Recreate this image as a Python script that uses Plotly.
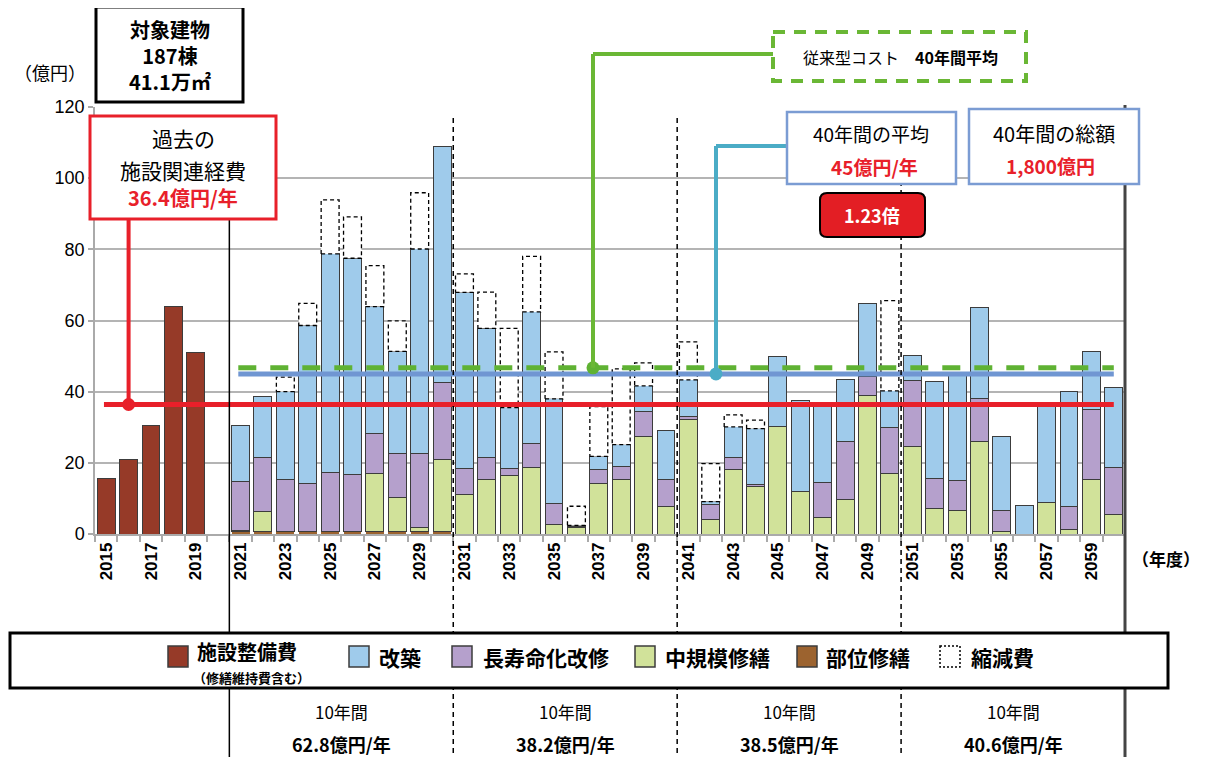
import plotly.graph_objects as go

# ---------------- data ----------------
hist_years = [2015, 2016, 2017, 2018, 2019]
facility_cost = [15.6, 21.0, 30.6, 63.8, 51.0]          # 施設整備費

years = list(range(2021, 2061))
partial_repair = [0.6, 0.6, 0.6, 0.6, 0.6, 0.6, 0.6, 0.6, 0.6, 0.6,
                  0.0, 0.0, 0.0, 0.0, 0.0, 0.0, 0.0, 0.0, 0.0, 0.0,
                  0.0, 0.0, 0.0, 0.0, 0.0, 0.0, 0.0, 0.0, 0.0, 0.0,
                  0.0, 0.0, 0.0, 0.0, 0.0, 0.0, 0.0, 0.0, 0.0, 0.0]   # 部位修繕
medium_repair = [0.4, 5.7, 0.0, 0.0, 0.0, 0.0, 16.4, 9.7, 1.3, 20.3,
                 11.0, 15.3, 16.5, 18.7, 2.6, 1.7, 14.2, 15.2, 27.3, 7.8,
                 32.3, 4.0, 18.1, 13.3, 30.2, 12.0, 4.6, 9.8, 38.8, 16.9,
                 24.6, 7.2, 6.6, 26.0, 0.8, 0.0, 8.8, 1.3, 15.2, 5.5]   # 中規模修繕
life_extension = [13.7, 15.1, 14.7, 13.7, 16.7, 16.1, 11.2, 12.2, 20.6, 21.6,
                  7.5, 6.3, 2.0, 6.6, 5.9, 0.5, 4.0, 3.8, 7.2, 7.4,
                  0.7, 4.3, 3.5, 0.6, 0.0, 0.0, 9.8, 16.2, 5.6, 12.9,
                  18.6, 8.5, 8.3, 12.2, 5.7, 0.0, 0.0, 6.5, 19.7, 13.1]  # 長寿命化改修
rebuild = [15.7, 17.2, 24.7, 44.3, 61.4, 60.8, 35.7, 28.8, 57.6, 66.5,
           49.4, 36.2, 17.0, 37.1, 29.5, 0.2, 3.6, 6.1, 7.1, 14.0,
           10.3, 0.8, 8.5, 15.7, 19.8, 25.5, 22.6, 17.3, 20.3, 10.4,
           6.9, 27.2, 30.1, 25.4, 21.0, 7.9, 27.7, 32.3, 16.4, 22.5]     # 改築
reduction = [0.0, 0.0, 4.1, 6.2, 15.2, 11.6, 11.5, 8.6, 15.8, 0.0,
             5.2, 10.2, 22.3, 15.6, 13.2, 5.4, 14.0, 21.3, 6.5, 0.0,
             10.7, 10.7, 3.4, 2.4, 0.0, 0.0, 0.0, 0.0, 0.0, 25.4,
             0.0, 0.0, 0.0, 0.0, 0.0, 0.0, 0.0, 0.0, 0.0, 0.0]           # 縮減費

avg_past = 36.4          # 過去の施設関連経費
avg_40yr = 45.0          # 40年間の平均
avg_conventional = 46.7  # 従来型コスト 40年間平均

decade_labels = ["10年間", "10年間", "10年間", "10年間"]
decade_values = ["62.8億円/年", "38.2億円/年", "38.5億円/年", "40.6億円/年"]
tick_years = list(range(2015, 2061, 2))

# ---------------- style ----------------
C_FAC = "#963a28"
C_REB = "#9fcbeb"
C_LIFE = "#b5a0cc"
C_MED = "#d1e29a"
C_PART = "#9c632f"
C_EDGE = "#3c3c3c"
RED = "#e8202a"
BLUE_LINE = "#7096d2"
GREEN = "#5fb233"
CYAN = "#4bacc6"
JP = "Noto Sans CJK JP"

# page offset (browser body margin) compensation
OFF = 8
W, H = 1205 - OFF, 757 - OFF
# plot area in screen pixels
L, R, T, B = 95, 1125, 107, 534
X0, X1 = 2014.5, 2060.5


def PX(x):
    return (x - L) / (R - L)


def PY(y):
    return (B - y) / (B - T)


def data_to_px(xd):
    return L + (xd - X0) * (R - L) / (X1 - X0)


def px_to_data(xp):
    return X0 + (xp - L) * (X1 - X0) / (R - L)


def yval_to_px(v):
    return B - v * (B - T) / 120.0


fig = go.Figure()
bar_line = dict(color=C_EDGE, width=1)
fig.add_trace(go.Bar(x=hist_years, y=facility_cost, marker=dict(color=C_FAC, line=bar_line),
                     width=0.8, name="施設整備費"))
fig.add_trace(go.Bar(x=years, y=partial_repair, marker=dict(color=C_PART, line=dict(width=0)),
                     width=0.8, name="部位修繕"))
fig.add_trace(go.Bar(x=years, y=medium_repair, marker=dict(color=C_MED, line=bar_line),
                     width=0.8, name="中規模修繕"))
fig.add_trace(go.Bar(x=years, y=life_extension, marker=dict(color=C_LIFE, line=bar_line),
                     width=0.8, name="長寿命化改修"))
fig.add_trace(go.Bar(x=years, y=rebuild, marker=dict(color=C_REB, line=bar_line),
                     width=0.8, name="改築"))

# dashed reduction boxes on top of the stacks
rx, ry = [], []
for i, yr in enumerate(years):
    if reduction[i] > 0:
        base = partial_repair[i] + medium_repair[i] + life_extension[i] + rebuild[i]
        top = base + reduction[i]
        rx += [yr - 0.4, yr + 0.4, yr + 0.4, yr - 0.4, yr - 0.4, None]
        ry += [base, base, top, top, base, None]
fig.add_trace(go.Scatter(x=rx, y=ry, mode="lines", fill="toself", fillcolor="white",
                         line=dict(color="black", width=1.3, dash="4px,3px"),
                         hoverinfo="skip", name="縮減費"))

# average lines
fig.add_trace(go.Scatter(x=[2020.9, 2060.0], y=[avg_conventional] * 2, mode="lines",
                         line=dict(color=GREEN, width=5, dash="18px,14px"), hoverinfo="skip"))
fig.add_trace(go.Scatter(x=[2020.9, 2060.0], y=[avg_40yr] * 2, mode="lines",
                         line=dict(color=BLUE_LINE, width=5), hoverinfo="skip"))
fig.add_trace(go.Scatter(x=[2014.9, 2060.0], y=[avg_past] * 2, mode="lines",
                         line=dict(color=RED, width=5), hoverinfo="skip"))

# connector dots
dot_red_x = 2016.0
dot_green_x = px_to_data(593)
dot_cyan_x = px_to_data(716)
fig.add_trace(go.Scatter(x=[dot_red_x], y=[avg_past], mode="markers",
                         marker=dict(color=RED, size=13), hoverinfo="skip"))
fig.add_trace(go.Scatter(x=[dot_green_x], y=[avg_conventional], mode="markers",
                         marker=dict(color=GREEN, size=13), hoverinfo="skip"))
fig.add_trace(go.Scatter(x=[dot_cyan_x], y=[avg_40yr], mode="markers",
                         marker=dict(color=CYAN, size=13), hoverinfo="skip"))

shapes = []


def line_px(x0, y0, x1, y1, color, width, dash=None):
    d = dict(type="line", xref="paper", yref="paper", x0=PX(x0), y0=PY(y0), x1=PX(x1), y1=PY(y1),
             line=dict(color=color, width=width), layer="above")
    if dash:
        d["line"]["dash"] = dash
    shapes.append(d)


def rect_px(x0, y0, x1, y1, color, width, fill="white", dash=None):
    d = dict(type="rect", xref="paper", yref="paper", x0=PX(x0), y0=PY(y0), x1=PX(x1), y1=PY(y1),
             line=dict(color=color, width=width), fillcolor=fill, layer="above")
    if dash:
        d["line"]["dash"] = dash
    shapes.append(d)


# decade divider lines
line_px(data_to_px(2020.5), 120, data_to_px(2020.5), 757, "black", 1.5)
for b in [2030.5, 2040.5, 2050.5]:
    line_px(data_to_px(b), 118, data_to_px(b), 757, "black", 1.5, dash="5px,4px")
line_px(data_to_px(2060.5), 105, data_to_px(2060.5), 757, "#444444", 3)

# connectors
red_dot_px = data_to_px(dot_red_x)
line_px(red_dot_px, 219, red_dot_px, yval_to_px(avg_past), RED, 4)
g_px = data_to_px(dot_green_x)
line_px(773, 54, g_px, 54, "#6ab735", 4)
line_px(g_px, 54, g_px, yval_to_px(avg_conventional), "#6ab735", 4)
c_px = data_to_px(dot_cyan_x)
line_px(787, 146, c_px, 146, CYAN, 4)
line_px(c_px, 146, c_px, yval_to_px(avg_40yr), CYAN, 4)

# boxes
rect_px(96, 7, 243, 102, "black", 3)
rect_px(90, 116, 276, 219, RED, 3)
rect_px(773, 32, 1026, 81, "#6ab735", 4, dash="12px,9px")
rect_px(787, 112, 956, 184, "#7b9cd3", 2.5)
rect_px(969, 109, 1139, 184, "#7b9cd3", 2.5)

# rounded red box
bx0, by0, bx1, by1, rr = 820, 193, 925, 237, 7
rx_ = rr / (R - L)
ry_ = rr / (B - T)
a, b_, c, d_ = PX(bx0), PY(by1), PX(bx1), PY(by0)
path = (f"M {a+rx_},{b_} L {c-rx_},{b_} Q {c},{b_} {c},{b_+ry_} L {c},{d_-ry_} Q {c},{d_} {c-rx_},{d_} "
        f"L {a+rx_},{d_} Q {a},{d_} {a},{d_-ry_} L {a},{b_+ry_} Q {a},{b_} {a+rx_},{b_} Z")
shapes.append(dict(type="path", xref="paper", yref="paper", path=path, fillcolor="#e31e24",
                   line=dict(color="black", width=2), layer="above"))

# legend box
rect_px(10, 633, 1168, 688, "black", 3)
legend_items = [
    (168, C_FAC, "施設整備費", 196),
    (349, C_REB, "改築", 378),
    (452, C_LIFE, "長寿命化改修", 482),
    (635, C_MED, "中規模修繕", 664),
    (797, C_PART, "部位修繕", 825),
]
for sx, col, _, _ in legend_items:
    rect_px(sx, 646, sx + 20, 667, C_EDGE, 1.5, fill=col)
rect_px(940, 646, 960, 667, "black", 1.5, fill="white", dash="2px,2px")

annotations = []


def text_px(x, y, s, size, color="black", bold=False, xanchor="center", family=JP):
    annotations.append(dict(xref="paper", yref="paper", x=PX(x), y=PY(y), text=s, showarrow=False,
                            xanchor=xanchor, yanchor="middle", borderpad=0,
                            font=dict(family=family, size=size, color=color,
                                      weight="bold" if bold else "normal")))


text_px(170, 55, "対象建物<br>187棟<br>41.1万㎡", 20, bold=True)
text_px(50, 72, "（億円）", 18)
text_px(183, 138, "過去の", 21)
text_px(183, 170, "施設関連経費", 21)
text_px(183, 197, "36.4億円/年", 20, color=RED, bold=True)
text_px(900, 57, "従来型コスト　<b>40年間平均</b>", 16)
text_px(871, 134, "40年間の平均", 19)
text_px(874, 166, "45億円/年", 19, color=RED, bold=True)
text_px(1054, 134, "40年間の総額", 20)
text_px(1050, 165, "1,800億円", 19, color=RED, bold=True)
text_px(872, 215, "1.23倍", 18, color="white", bold=True)
text_px(1166, 558, "（年度）", 17, bold=True)

for _, _, lab, tx in legend_items:
    if lab == "施設整備費":
        text_px(tx, 652, lab, 20, bold=True, xanchor="left")
        text_px(tx - 4, 677, "（修繕維持費含む）", 13, bold=True, xanchor="left")
    else:
        text_px(tx, 657, lab, 21, bold=True, xanchor="left")
text_px(970, 657, "縮減費", 21, bold=True, xanchor="left")

bounds = [2020.5, 2030.5, 2040.5, 2050.5, 2060.5]
for k in range(4):
    cx = (data_to_px(bounds[k]) + data_to_px(bounds[k + 1])) / 2
    text_px(cx, 711, decade_labels[k], 17)
    text_px(cx, 744, decade_values[k], 18, bold=True)

fig.update_layout(
    width=W, height=H, barmode="stack", showlegend=False,
    plot_bgcolor="white", paper_bgcolor="white",
    margin=dict(l=L - OFF, r=W - (R - OFF), t=T - OFF, b=H - (B - OFF)),
    shapes=shapes, annotations=annotations, bargap=0.2,
    xaxis=dict(range=[X0, X1], tickmode="array", tickvals=tick_years,
               ticktext=[str(v) for v in tick_years], tickangle=-90, ticks="",
               tickfont=dict(family="Liberation Sans", size=17, color="black", weight="bold"),
               showgrid=False, showline=True, linecolor="#aaaaaa", linewidth=1.5, zeroline=False,
               minor=dict(tickmode="array", tickvals=[X0 + i for i in range(47)], ticks="outside",
                          ticklen=6, tickcolor="#aaaaaa", tickwidth=1.5, showgrid=False)),
    yaxis=dict(range=[0, 120], tickmode="array", tickvals=[0, 20, 40, 60, 80, 100, 120],
               ticks="outside", ticklen=5, tickcolor="#aaaaaa", tickwidth=1.5,
               tickfont=dict(family="Liberation Sans", size=18, color="black"),
               showgrid=False, zeroline=False, showline=True, linecolor="#aaaaaa", linewidth=1.5,
               minor=dict(tickmode="array", tickvals=[20, 40, 60, 80, 100], showgrid=True,
                          gridcolor="#b4b4b4", gridwidth=1.5, ticks="")),
)

fig.write_html("out.html")
